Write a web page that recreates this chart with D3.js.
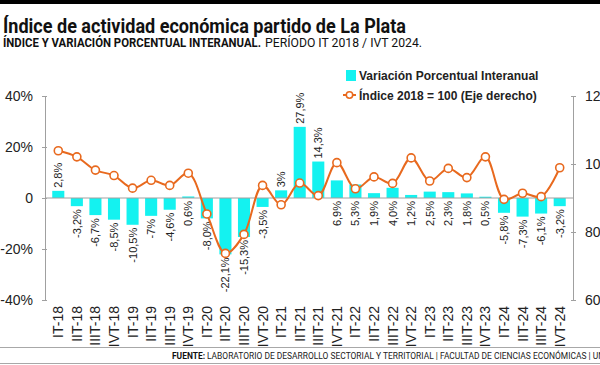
<!DOCTYPE html>
<meta charset="utf-8">
<script src="https://d3js.org/d3.v7.min.js"></script>
<style>
  body { margin: 0; background: #fff; }
  svg { display: block; }
</style>
<div id="chart"></div>
<script>

// quarters, IT 2018 .. IVT 2024
var categories = ["IT-18","IIT-18","IIIT-18","IVT-18",
                  "IT-19","IIT-19","IIIT-19","IVT-19",
                  "IT-20","IIT-20","IIIT-20","IVT-20",
                  "IT-21","IIT-21","IIIT-21","IVT-21",
                  "IT-22","IIT-22","IIIT-22","IVT-22",
                  "IT-23","IIT-23","IIIT-23","IVT-23",
                  "IT-24","IIT-24","IIIT-24","IVT-24"];

// year-on-year variation (%), left axis
var variation = [2.8,-3.2,-6.7,-8.5, -10.5,-7,-4.6,0.6, -8.0,-22.1,-15.3,-3.5,
                 3,27.9,14.3,6.9, 5.3,1.9,4.0,1.2, 2.5,2.3,1.8,0.5, -5.8,-7.3,-6.1,-3.2];
var variationLabels = ["2,8%","-3,2%","-6,7%","-8,5%","-10,5%","-7%","-4,6%","0,6%",
                       "-8,0%","-22,1%","-15,3%","-3,5%","3%","27,9%","14,3%","6,9%",
                       "5,3%","1,9%","4,0%","1,2%","2,5%","2,3%","1,8%","0,5%",
                       "-5,8%","-7,3%","-6,1%","-3,2%"];

// index 2018 = 100, right axis
var indexValues = [103.9,102.1,98.2,96.6, 92.9,95.2,93.7,97.3, 85.3,73.7,79.3,93.7,
                   88.0,94.4,90.7,100.4, 92.7,96.2,94.3,101.8, 95.0,98.7,96.0,102.1,
                   89.6,91.4,90.4,98.9];

var leftTicks = [-40,-20,0,20,40];
var leftTickLabels = ["-40%","-20%","0","20%","40%"];
var rightTicks = [60,80,100,120];

var W = 600, H = 365;
var cyan = "#14f2f0", orange = "#e8691e", axisGrey = "#a0a0a0";

var svg = d3.select("#chart").append("svg")
    .attr("width", W).attr("height", H);

// top black strip
svg.append("rect").attr("x", 0).attr("y", 0).attr("width", W).attr("height", 4).attr("fill", "#000");

// title + subtitle
svg.append("text")
    .attr("x", 3).attr("y", 33)
    .attr("font-family", "Roboto, 'Liberation Sans', sans-serif")
    .attr("font-weight", "bold").attr("font-size", 20)
    .attr("textLength", 403).attr("lengthAdjust", "spacingAndGlyphs")
    .attr("fill", "#111")
    .text("Índice de actividad económica partido de La Plata");

svg.append("text")
    .attr("x", 3).attr("y", 47)
    .attr("font-family", "Roboto, 'Liberation Sans', sans-serif")
    .attr("font-weight", "bold").attr("font-size", 13)
    .attr("textLength", 258).attr("lengthAdjust", "spacingAndGlyphs")
    .attr("fill", "#111")
    .text("ÍNDICE Y VARIACIÓN PORCENTUAL INTERANUAL.");

svg.append("text")
    .attr("x", 265).attr("y", 47)
    .attr("font-family", "Roboto, 'Liberation Sans', sans-serif")
    .attr("font-size", 13)
    .attr("textLength", 157).attr("lengthAdjust", "spacingAndGlyphs")
    .attr("fill", "#111")
    .text("PERÍODO IT 2018 / IVT 2024.");

// scales
var x = d3.scaleBand()
    .domain(categories)
    .range([49, 569])
    .paddingInner(0.35)
    .paddingOuter(0.175);

var yLeft = d3.scaleLinear().domain([-40, 40]).range([300, 96]);
var yRight = d3.scaleLinear().domain([60, 120]).range([300, 96]);

var xLeftAxis = 45, xRightAxis = 573;
var tickFont = "'Liberation Sans', Arial, sans-serif";

// left axis
var gl = svg.append("g")
    .attr("transform", "translate(" + xLeftAxis + ",0)")
    .call(d3.axisLeft(yLeft).tickValues(leftTicks)
        .tickFormat(function(d, i) { return leftTickLabels[i]; })
        .tickSizeInner(3).tickSizeOuter(0).tickPadding(9));
gl.select(".domain").attr("stroke", axisGrey);
gl.selectAll(".tick line").attr("stroke", axisGrey).attr("x2", -3).attr("x1", 2);
gl.selectAll(".tick text").attr("font-family", tickFont).attr("font-size", 14).attr("fill", "#222");

// right axis
var gr = svg.append("g")
    .attr("transform", "translate(" + xRightAxis + ",0)")
    .call(d3.axisRight(yRight).tickValues(rightTicks)
        .tickSizeInner(3).tickSizeOuter(0).tickPadding(9));
gr.select(".domain").attr("stroke", axisGrey);
gr.selectAll(".tick line").attr("stroke", axisGrey).attr("x1", -2).attr("x2", 3);
gr.selectAll(".tick text").attr("font-family", tickFont).attr("font-size", 14).attr("fill", "#222");

// bars
svg.append("g").selectAll("rect")
  .data(variation)
  .join("rect")
    .attr("x", function(d, i) { return x(categories[i]); })
    .attr("y", function(d) { return yLeft(Math.max(0, d)); })
    .attr("width", x.bandwidth())
    .attr("height", function(d) { return Math.abs(yLeft(d) - yLeft(0)); })
    .attr("fill", cyan);

// zero line
svg.append("line")
    .attr("x1", xLeftAxis).attr("x2", xRightAxis)
    .attr("y1", yLeft(0)).attr("y2", yLeft(0))
    .attr("stroke", axisGrey).attr("stroke-width", 1);

// bar labels: the source puts some positive labels under the zero line
var labelsAbove = ["IT-18", "IT-21", "IIT-21", "IIIT-21"];
svg.append("g").selectAll("text")
  .data(variation)
  .join("text")
    .attr("transform", function(d, i) {
      var cx = x(categories[i]) + x.bandwidth() / 2 + 4;
      var above = labelsAbove.indexOf(categories[i]) >= 0;
      var yy = above ? yLeft(d) - 3 : yLeft(Math.min(0, d)) + 3;
      return "translate(" + cx + "," + yy + ") rotate(-90)";
    })
    .attr("text-anchor", function(d, i) { return labelsAbove.indexOf(categories[i]) >= 0 ? "start" : "end"; })
    .attr("font-family", tickFont).attr("font-size", 11).attr("fill", "#222")
    .text(function(d, i) { return variationLabels[i]; });

// index line
var line = d3.line()
    .x(function(d, i) { return x(categories[i]) + x.bandwidth() / 2; })
    .y(function(d) { return yRight(d); })
    .curve(d3.curveCatmullRom.alpha(0.5));

svg.append("path")
    .datum(indexValues)
    .attr("d", line)
    .attr("fill", "none").attr("stroke", orange).attr("stroke-width", 2);

svg.append("g").selectAll("circle")
  .data(indexValues)
  .join("circle")
    .attr("cx", function(d, i) { return x(categories[i]) + x.bandwidth() / 2; })
    .attr("cy", function(d) { return yRight(d); })
    .attr("r", 4)
    .attr("fill", "#fff").attr("stroke", orange).attr("stroke-width", 1.6);

// x labels
svg.append("g").selectAll("text")
  .data(categories)
  .join("text")
    .attr("transform", function(d) {
      return "translate(" + (x(d) + x.bandwidth() / 2 + 5) + ",306) rotate(-90)";
    })
    .attr("text-anchor", "end")
    .attr("font-family", "'Liberation Sans Narrow', 'Liberation Sans', Arial, sans-serif")
    .attr("font-size", 14).attr("fill", "#222")
    .text(function(d) { return d; });

// legend
var legendFont = "'Liberation Sans', Arial, sans-serif";
svg.append("rect").attr("x", 346).attr("y", 70).attr("width", 10).attr("height", 11).attr("fill", cyan);
svg.append("text").attr("x", 359).attr("y", 80)
    .attr("font-family", legendFont).attr("font-weight", "bold").attr("font-size", 12).attr("fill", "#222")
    .text("Variación Porcentual Interanual");
svg.append("line").attr("x1", 343).attr("x2", 356).attr("y1", 95).attr("y2", 95)
    .attr("stroke", orange).attr("stroke-width", 2);
svg.append("circle").attr("cx", 349.5).attr("cy", 95).attr("r", 3.2)
    .attr("fill", "#fff").attr("stroke", orange).attr("stroke-width", 1.5);
svg.append("text").attr("x", 359).attr("y", 99.5)
    .attr("font-family", legendFont).attr("font-weight", "bold").attr("font-size", 12).attr("fill", "#222")
    .text("Índice 2018 = 100 (Eje derecho)");

// footer
svg.append("line").attr("x1", 0).attr("x2", W).attr("y1", 347.5).attr("y2", 347.5)
    .attr("stroke", "#a8a8a8").attr("stroke-width", 1);
svg.append("line").attr("x1", 0).attr("x2", W).attr("y1", 363.5).attr("y2", 363.5)
    .attr("stroke", "#a8a8a8").attr("stroke-width", 1);
svg.append("text").attr("x", 172).attr("y", 359)
    .attr("font-family", "Roboto, 'Liberation Sans', sans-serif").attr("font-weight", "bold")
    .attr("font-size", 9.5).attr("textLength", 33).attr("lengthAdjust", "spacingAndGlyphs")
    .attr("fill", "#111").text("FUENTE:");
svg.append("text").attr("x", 207).attr("y", 359)
    .attr("font-family", "Roboto, 'Liberation Sans', sans-serif")
    .attr("font-size", 9.5).attr("textLength", 407).attr("lengthAdjust", "spacingAndGlyphs")
    .attr("fill", "#222")
    .text("LABORATORIO DE DESARROLLO SECTORIAL Y TERRITORIAL | FACULTAD DE CIENCIAS ECONÓMICAS | UNLP");

</script>
